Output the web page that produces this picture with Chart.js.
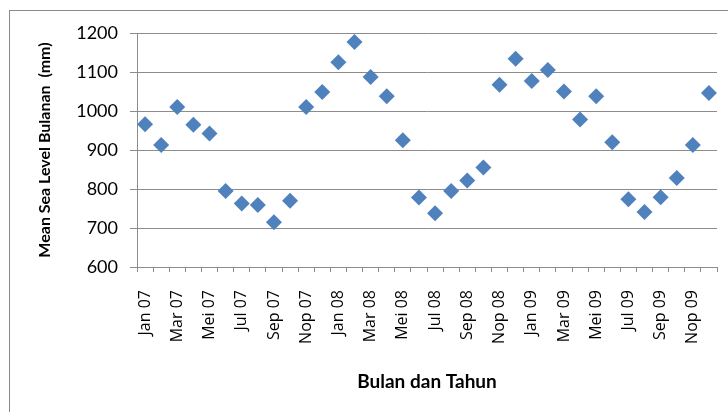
<!DOCTYPE html>
<html>
<head>
<meta charset="utf-8">
<script src="https://cdn.jsdelivr.net/npm/chart.js@4.4.1/dist/chart.umd.min.js"></script>
<style>
    body { margin: 0; background: #fff; }
    #wrap { width: 728px; height: 412px; }
</style>
</head>
<body>
<div id="wrap"><canvas id="slChart" width="728" height="412"></canvas></div>
<script>
// ===================================
// Mean sea level bulanan, Jan 07 - Des 09
// ===================================

const months = [
    'Jan 07', 'Feb 07', 'Mar 07', 'Apr 07', 'Mei 07', 'Jun 07',
    'Jul 07', 'Agu 07', 'Sep 07', 'Okt 07', 'Nop 07', 'Des 07',
    'Jan 08', 'Feb 08', 'Mar 08', 'Apr 08', 'Mei 08', 'Jun 08',
    'Jul 08', 'Agu 08', 'Sep 08', 'Okt 08', 'Nop 08', 'Des 08',
    'Jan 09', 'Feb 09', 'Mar 09', 'Apr 09', 'Mei 09', 'Jun 09',
    'Jul 09', 'Agu 09', 'Sep 09', 'Okt 09', 'Nop 09', 'Des 09'
];

// mm
const seaLevel = [
    966, 913, 1010, 965, 942, 795, 763, 759, 715, 770, 1010, 1049,
    1125, 1177, 1087, 1038, 925, 778, 738, 795, 822, 855, 1067, 1134,
    1077, 1105, 1050, 978, 1038, 920, 774, 741, 779, 828, 913, 1046
];

const yMin = 600;
const yMax = 1200;
const yStep = 100;

// Outer frame like the spreadsheet chart area
const framePlugin = {
    id: 'frame',
    beforeDraw(chart) {
        const ctx = chart.ctx;
        ctx.save();
        ctx.strokeStyle = '#8a8a8a';
        ctx.lineWidth = 1;
        ctx.strokeRect(9.5, 10.5, 760, 450);
        ctx.restore();
    }
};

const gridGray = '#8c8c8c';

new Chart(document.getElementById('slChart'), {
    type: 'line',
    data: {
        labels: months,
        datasets: [{
            label: 'Mean Sea Level',
            data: seaLevel,
            showLine: false,
            pointStyle: 'rectRot',
            pointRadius: 8,
            pointHoverRadius: 8,
            backgroundColor: '#4f81bd',
            borderColor: '#4f81bd',
            borderWidth: 0
        }]
    },
    options: {
        responsive: false,
        animation: false,
        layout: {
            padding: { left: 0, top: 33, right: 11, bottom: 0 }
        },
        plugins: {
            legend: { display: false },
            tooltip: { enabled: false }
        },
        scales: {
            x: {
                offset: true,
                afterFit: function(scale) {
                    scale.height = 145;
                    scale.paddingLeft = 0;
                    scale.paddingRight = 0;
                },
                grid: {
                    offset: true,
                    drawOnChartArea: false,
                    tickLength: 5,
                    color: gridGray
                },
                border: { color: gridGray },
                ticks: {
                    autoSkip: false,
                    minRotation: 90,
                    maxRotation: 90,
                    padding: 18,
                    color: '#000',
                    font: { family: 'Open Sans', size: 16 },
                    callback: function(value, index) {
                        return index % 2 === 0 ? months[index] : '';
                    }
                },
                title: {
                    display: true,
                    text: 'Bulan dan Tahun',
                    color: '#000',
                    font: { family: 'Lato', size: 19, weight: 'bold' },
                    padding: { top: 19, bottom: 19 }
                }
            },
            y: {
                min: yMin,
                max: yMax,
                afterFit: function(scale) { scale.width = 137; },
                grid: {
                    color: gridGray,
                    tickLength: 7
                },
                border: { color: gridGray },
                ticks: {
                    stepSize: yStep,
                    padding: 12,
                    color: '#000',
                    font: { family: 'Lato', size: 18 },
                    callback: function(value) { return String(value); }
                },
                title: {
                    display: true,
                    text: 'Mean Sea Level Bulanan  (mm)',
                    color: '#000',
                    font: { family: 'Lato', size: 16, weight: 'bold' },
                    padding: { top: 35, bottom: 35 }
                }
            }
        }
    },
    plugins: [framePlugin]
});
</script>
</body>
</html>
